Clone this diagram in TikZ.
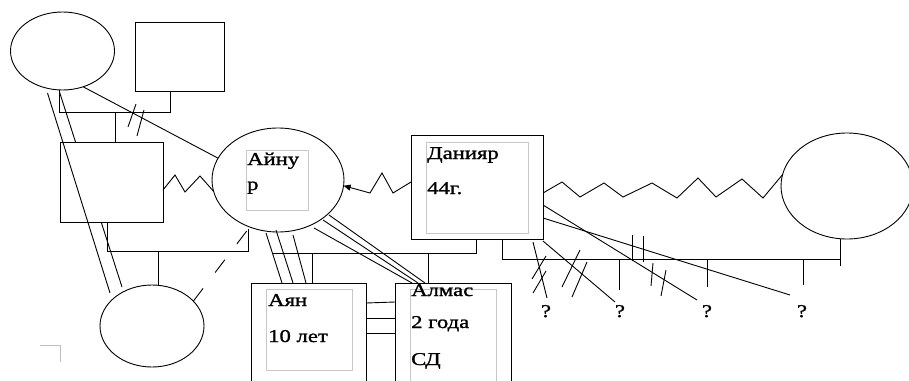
\documentclass[tikz,border=0pt]{standalone}
\usepackage{fontspec}
\setmainfont[FakeStretch=1.26, FakeBold=1.3]{Liberation Serif}
\usetikzlibrary{shapes.geometric, arrows.meta}

\tikzset{
  male/.style={draw, line width=1pt, fill=white, inner sep=0pt, outer sep=0pt},
  female/.style={draw, ellipse, line width=0.9pt, fill=white, inner sep=0pt, outer sep=0pt},
  namebox/.style={draw=black!22, line width=0.9pt, inner sep=0pt, outer sep=0pt, anchor=north west},
  persname/.style={anchor=base west, inner sep=0pt, font=\fontsize{18}{20}\selectfont},
  tie/.style={line width=0.9pt},
}

\begin{document}
\begin{tikzpicture}[x=1pt, y=-1pt]
\clip (0,0) rectangle (909,380);

% older generation
\node[female, minimum width=104pt, minimum height=78pt] (mother) at (62.5,51) {};
\node[male, minimum width=89pt, minimum height=69pt] (father) at (179.5,56.5) {};
\node[female, minimum width=104pt, minimum height=82pt] (daughter) at (152,326) {};

% hidden line, behind the first husband
\draw[tie] ([shift={(-3,2)}]mother.south) -- ([shift={(-30,2)}]daughter.north);

\node[male, minimum width=103pt, minimum height=80pt] (husband) at (111.5,182) {};
\node[female, minimum width=132pt, minimum height=104pt] (ainur) at (278,180) {};
\node[male, minimum width=132pt, minimum height=104pt] (daniyar) at (477,187) {};
\node[female, minimum width=132pt, minimum height=106pt] (wife) at (847,186) {};
\node[male, anchor=north west, minimum width=115pt, minimum height=117pt] (ayan) at (251,283) {};
\node[male, anchor=north west, minimum width=116pt, minimum height=117pt] (almas) at (395,283) {};

% name boxes
\node[namebox, minimum width=62pt, minimum height=60pt] (ainurB) at (246,150) {};
\node[namebox, minimum width=102pt, minimum height=91pt] (daniyarB) at (426,142) {};
\node[namebox, minimum width=86pt, minimum height=81pt] (ayanB) at (266,289) {};
\node[namebox, minimum width=86pt, minimum height=110pt] (almasB) at (410,289) {};

\node[persname] (ainurN1) at ([shift={(1,15)}]ainurB.north west) {Айну};
\node[persname] (ainurN2) at ([shift={(1,40)}]ainurB.north west) {р};
\node[persname] (daniyarN1) at ([shift={(1,17)}]daniyarB.north west) {Данияр};
\node[persname] (daniyarN2) at ([shift={(1,52)}]daniyarB.north west) {44г.};
\node[persname] (ayanN1) at ([shift={(2,17)}]ayanB.north west) {Аян};
\node[persname] (ayanN2) at ([shift={(2,53)}]ayanB.north west) {10 лет};
\node[persname] (almasN1) at ([shift={(1,7)}]almasB.north west) {Алмас};
\node[persname] (almasN2) at ([shift={(1,39)}]almasB.north west) {2 года};
\node[persname] (almasN3) at ([shift={(1,76)}]almasB.north west) {СД};

\node[persname, anchor=base] (q1) at (546,317) {?};
\node[persname, anchor=base] (q2) at (620,317) {?};
\node[persname, anchor=base] (q3) at (707,317) {?};
\node[persname, anchor=base] (q4) at (802,317) {?};

% couples and children
\draw[tie] ([shift={(-3,0)}]mother.south) -- ++(0,22) -| ([shift={(-9.5,0)}]father.south);
\draw[tie] ([shift={(3.5,0)}]husband.north) -- ++(0,-30);
\draw[tie] ([shift={(-4,0)}]husband.south) -- ++(0,29) -| ([shift={(-30,-3)}]ainur.south);
\draw[tie] ([shift={(6,0)}]daughter.north) -- ++(0,-34);
\draw[tie] ([shift={(-1,0)}]daniyar.south) |- ([shift={(-6,21)}]ainur.south);
\draw[tie] ([shift={(61,0)}]ayan.north west) -- ++(0,-30);
\draw[tie] ([shift={(33,0)}]almas.north west) -- ++(0,-30);
\draw[tie] ([shift={(-41,0)}]daniyar.south east) |- ([shift={(-7,20)}]wife.south);
\draw[tie] ([shift={(-7,0)}]wife.south) -- ++(0,27);

% relations
\draw[tie] (mother.300) -- (ainur.160);
\draw[tie] ([shift={(-15,3)}]mother.south) -- ([shift={(-42,8)}]daughter.north);
\draw[tie] ([shift={(0,8)}]husband.east) -- ++(12,-15) -- ++(10,17) -- ++(15,-16) -- (ainur.190);
\draw[tie, -{Triangle[length=7pt,width=6pt]}] ([shift={(0,-5)}]daniyar.west)
  -- ++(-18,11) -- ++(-11,-20) -- ++(-12,20) -- (ainur.355);
\draw[tie] ([shift={(0,6)}]daniyar.east) -- ++(19,-11) -- ++(18,15) -- ++(24,-14)
  -- ++(19,14) -- ++(29,-14) -- ++(25,15) -- ++(21,-20) -- ++(18,19) -- ++(26,-18)
  -- ++(21,19) -- (wife.170);
\draw[tie, dash pattern=on 16pt off 20pt] (daughter.31) -- (ainur.239);

\draw[tie] ([shift={(-12,53)}]ainur.center) -- ([shift={(31,0)}]ayan.north west);
\draw[tie] ([shift={(-2,50)}]ainur.center) -- ([shift={(42,0)}]ayan.north west);
\draw[tie] ([shift={(15,55)}]ainur.center) -- ([shift={(55,0)}]ayan.north west);
\draw[tie] ([shift={(36,48)}]ainur.center) -- ([shift={(17,0)}]almas.north west);
\draw[tie] ([shift={(45,40)}]ainur.center) -- ([shift={(23,0)}]almas.north west);
\draw[tie] ([shift={(51,35)}]ainur.center) -- ([shift={(30,0)}]almas.north west);
\draw[tie] ([shift={(0,20)}]ayan.north east) -- ([shift={(0,19)}]almas.north west);
\draw[tie] ([shift={(0,35)}]ayan.north east) -- ([shift={(0,35)}]almas.north west);
\draw[tie] ([shift={(0,50)}]ayan.north east) -- ([shift={(0,50)}]almas.north west);

% unknown children
\draw[tie] ([shift={(-10,3)}]daniyar.south east) -- ([shift={(1,-19)}]q1.base);
\draw[tie] ([shift={(0,2)}]daniyar.south east) -- ([shift={(-5,-15)}]q2.base);
\draw[tie] ([shift={(0,18)}]daniyar.east) -- ([shift={(-10,-17)}]q3.base);
\draw[tie] ([shift={(0,31)}]daniyar.east) -- ([shift={(-12,-22)}]q4.base);
\draw[tie] ([shift={(-1,-58)}]q2.base) -- ([shift={(-1,-27)}]q2.base);
\draw[tie] ([shift={(0,-58)}]q3.base) -- ([shift={(0,-30)}]q3.base);
\draw[tie] ([shift={(1,-58)}]q4.base) -- ([shift={(1,-32)}]q4.base);

% cut marks
\draw[tie] (128,127) -- ++(8,-23);
\draw[tie] (137,136) -- ++(7,-26);
\draw[tie] (632,235) -- ++(0,26);
\draw[tie] (643,236) -- ++(0,26);
\draw[tie] (532,279) -- ++(14,-23);
\draw[tie] (533,293) -- ++(13,-22);
\draw[tie] (562,287) -- ++(18,-37);
\draw[tie] (572,297) -- ++(15,-35);
\draw[tie] (651,286) -- ++(2,-23);
\draw[tie] (661,296) -- ++(5,-26);

\draw[black!25, line width=1pt] (40,345) -- (60,345) -- (60,362);
\end{tikzpicture}
\end{document}
